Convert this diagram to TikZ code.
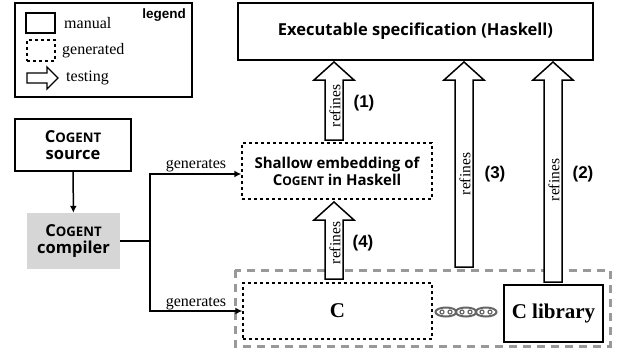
\documentclass[tikz,border=0pt]{standalone}
\usepackage{fontspec}
\setmainfont{Liberation Serif}
\newfontfamily\titlefont{Open Sans}
\newfontfamily\labelfont{Liberation Sans}
\usetikzlibrary{arrows.meta,calc}

% small-caps style project name
\newcommand\cgname{C\scalebox{0.8}{OGENT}}

\tikzset{
  box/.style={draw, line width=1.6pt, inner sep=0pt},
  genbox/.style={draw, line width=1.4pt, dash pattern=on 3pt off 3pt, inner sep=0pt},
  title/.style={font=\titlefont\bfseries\fontsize{16.5}{19}\selectfont, align=center},
  smalltitle/.style={font=\titlefont\bfseries\fontsize{15}{18}\selectfont, align=center},
  serif/.style={font=\fontsize{16}{19}\selectfont},
  num/.style={font=\labelfont\bfseries\fontsize{17}{20}\selectfont},
  fat/.style={draw, line width=1.5pt, fill=white, line join=miter},
  flow/.style={line width=1.5pt, -{Latex[length=7pt,width=7pt]}},
  plain/.style={line width=1.5pt},
  refl/.style={font=\fontsize{15.5}{18}\selectfont, rotate=90, inner sep=0pt},
  link/.style={black!60, line width=2pt},
}

\begin{document}
\begin{tikzpicture}[x=1pt, y=-1pt]
\useasboundingbox (0,0) rectangle (618,354);

% ---- legend ----
\node[box, minimum width=177pt, minimum height=94pt] (legend) at (103.5,50) {};
\node[font=\labelfont\bfseries\fontsize{13.5}{16}\selectfont, anchor=east, inner sep=0pt] (legendtitle) at (186,15) {legend};
\node[box, minimum width=29pt, minimum height=20pt] (manualbox) at (40.5,23) {};
\node[genbox, minimum width=28pt, minimum height=21pt] (genbox) at (41,50.5) {};
\draw[fat, line width=1.4pt] (27,73) -- (47,73) -- (47,67) -- (58,78) -- (47,89) -- (47,83) -- (27,83) -- cycle;
\coordinate (testarrow) at (58,78);
\node[serif, anchor=west, inner sep=0pt] (manualtxt) at (64,23) {manual};
\node[serif, anchor=west, inner sep=0pt] (gentxt) at (62,51) {generated};
\node[serif, anchor=west, inner sep=0pt] (testtxt) at (66,78) {testing};

% ---- main boxes ----
\node[box, minimum width=355pt, minimum height=57pt, title] (spec) at (415.5,31.5)
  {Executable specification (Haskell)};
\node[box, minimum width=116pt, minimum height=52pt, title] (source) at (73,145)
  {\cgname\\[-2pt]source};
\node[fill=black!16, minimum width=93pt, minimum height=56pt, inner sep=0pt, title] (compiler) at (73.5,241)
  {\cgname\\[-2pt]compiler};
\node[genbox, minimum width=190pt, minimum height=56pt, smalltitle] (shallow) at (337,171)
  {Shallow embedding of\\[-1pt]\cgname{} in Haskell};
\node[genbox, minimum width=189pt, minimum height=56pt, font=\bfseries\fontsize{21}{24}\selectfont] (cimpl) at (337.5,311) {C};
\node[box, minimum width=99pt, minimum height=57pt, font=\bfseries\fontsize{21}{24}\selectfont] (clib) at (553.5,313.5) {C library};

% gray frame round the C side
\draw[line width=3pt, black!40, dash pattern=on 8pt off 6pt] (235,270) rectangle (610,346);

% ---- compiler outputs ----
\draw[flow] (source) -- (compiler);
\coordinate (branch) at (150,241);
\draw[plain] (compiler.east |- branch) -- (branch);
\draw[flow] (branch) -- (150,174) -- (shallow.west |- 0,174);
\draw[flow] (branch) |- (cimpl.west);
\node[serif, anchor=south, inner sep=1pt] (gen1) at (196,173) {generates};
\node[serif, anchor=south, inner sep=1pt] (gen2) at (196,311) {generates};

% ---- refinement arrows ----
\newcommand\refarrow[2]{%
  \draw[fat] let \p1=(#1), \p2=(#2) in
    (\x1-9pt,\y1) -- (\x1-9pt,\y2-18pt) -- (\x1-20pt,\y2-18pt) -- (\x1,\y2)
    -- (\x1+20pt,\y2-18pt) -- (\x1+9pt,\y2-18pt) -- (\x1+9pt,\y1) -- cycle;}
\coordinate (r1b) at (334,140);  \coordinate (r1t) at (334,62);
\coordinate (r4b) at (334,279);  \coordinate (r4t) at (334,202);
\coordinate (r3b) at (464,267);  \coordinate (r3t) at (464,62);
\coordinate (r2b) at (553,282);  \coordinate (r2t) at (553,62);
\refarrow{r1b}{r1t}
\refarrow{r4b}{r4t}
\refarrow{r3b}{r3t}
\refarrow{r2b}{r2t}
\node[refl] (ref1) at (335,106) {refines};
\node[refl] (ref4) at (335,243) {refines};
\node[refl] (ref3) at (465,174) {refines};
\node[refl] (ref2) at (554,180) {refines};
\node[num] (n1) at (364,103) {(1)};
\node[num] (n4) at (363,243) {(4)};
\node[num] (n3) at (495,174) {(3)};
\node[num] (n2) at (583,174) {(2)};

% ---- chain link between C and the library ----
\foreach \cx in {446,466,486}{
  \draw[link] (\cx,312) ellipse [x radius=10.5pt, y radius=4.5pt];
  \draw[link, line width=1.2pt] (\cx-4,312) circle [radius=2pt] (\cx+4,312) circle [radius=2pt];
}
\end{tikzpicture}
\end{document}
